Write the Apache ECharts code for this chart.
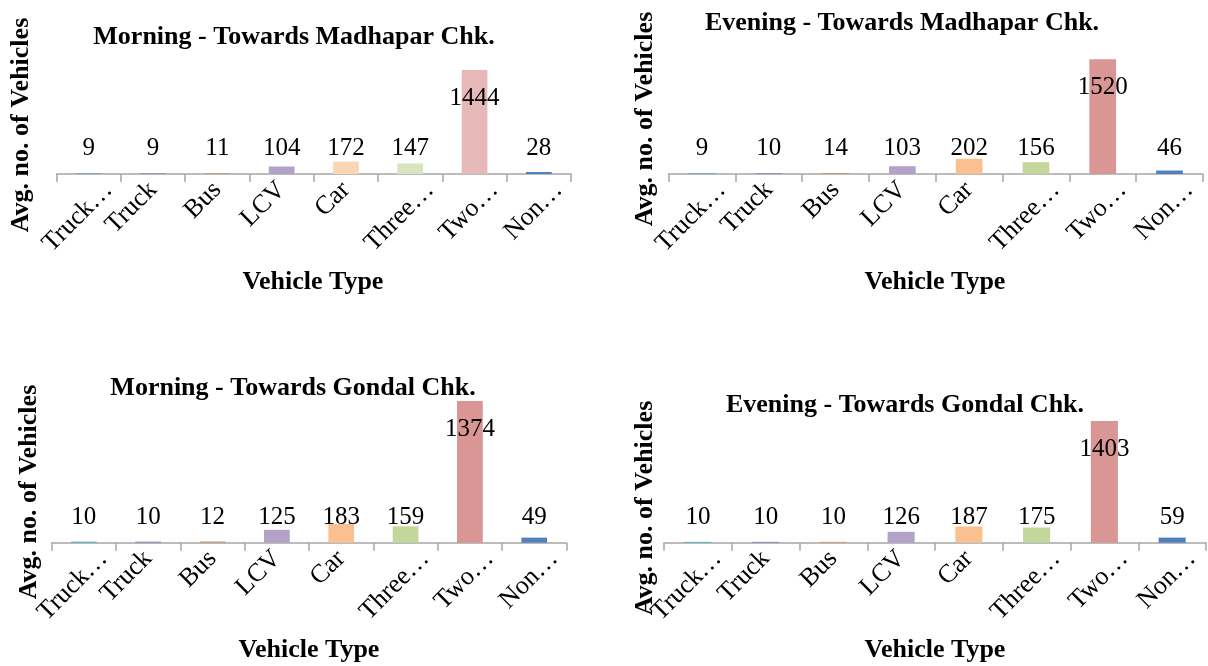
<!DOCTYPE html>
<html>
<head>
<meta charset="utf-8">
<script src="https://cdn.jsdelivr.net/npm/echarts@6/dist/echarts.min.js"></script>
<style>
html,body{margin:0;padding:0;background:#fff;}
#chart{width:1208px;height:666px;}
</style>
</head>
<body>
<div id="chart"></div>
<script>
// ---- data ----
const categories = ['Truck…', 'Truck', 'Bus', 'LCV', 'Car', 'Three…', 'Two…', 'Non…'];
const titles = [
  'Morning - Towards Madhapar Chk.',
  'Evening - Towards Madhapar Chk.',
  'Morning - Towards Gondal Chk.',
  'Evening - Towards Gondal Chk.'
];
const morningMadhapar = [9, 9, 11, 104, 172, 147, 1444, 28];
const eveningMadhapar = [9, 10, 14, 103, 202, 156, 1520, 46];
const morningGondal = [10, 10, 12, 125, 183, 159, 1374, 49];
const eveningGondal = [10, 10, 10, 126, 187, 175, 1403, 59];
const xAxisTitle = 'Vehicle Type';
const yAxisTitle = 'Avg. no. of Vehicles';

// ---- styling ----
const colorsLight = ['#4BACC6', '#8E7FAE', '#C49A78', '#B3A2C7', '#FCD5B5', '#D7E4BD', '#E6B9B8', '#4F81BD'];
const colorsStd = ['#4BACC6', '#8E7FAE', '#C49A78', '#B3A2C7', '#FAC090', '#C3D69B', '#D99694', '#4F81BD'];
const serif = '"Liberation Serif","Times New Roman",serif';

const panels = [
  {values: morningMadhapar, colors: colorsLight, grid: {left: 56.6, top: 58.8, width: 514.4, height: 115.2},
   title: [294, 37], xt: [313, 282], yt: [21, 125]},
  {values: eveningMadhapar, colors: colorsStd, grid: {left: 668.6, top: 53.2, width: 534.3, height: 120.8},
   title: [902, 23], xt: [935, 282], yt: [645, 119]},
  {values: morningGondal, colors: colorsStd, grid: {left: 51.7, top: 377.7, width: 514.7, height: 165},
   title: [293, 388], xt: [309, 650], yt: [29, 492]},
  {values: eveningGondal, colors: colorsStd, grid: {left: 664, top: 404, width: 542, height: 138.7},
   title: [905, 405], xt: [935, 650], yt: [645, 508]}
];

const grids = [], xAxes = [], yAxes = [], series = [], graphics = [];

panels.forEach((p, i) => {
  grids.push(Object.assign({containLabel: false}, p.grid));
  xAxes.push({
    type: 'category', gridIndex: i, data: categories,
    axisLine: {lineStyle: {color: '#A6A6A6', width: 1.5}},
    axisTick: {show: true, length: 8, lineStyle: {color: '#A6A6A6', width: 1.5}},
    axisLabel: {
      interval: 0, rotate: 45, margin: 12, color: '#000', fontSize: 26, fontFamily: serif,
      formatter: v => v.indexOf('…') >= 0 ? '{e|' + v + '}' : '{n|' + v + '}',
      rich: {
        e: {fontSize: 26, fontFamily: serif, color: '#000', padding: [28, -14, 0, 0]},
        n: {fontSize: 26, fontFamily: serif, color: '#000'}
      }
    }
  });
  yAxes.push({type: 'value', gridIndex: i, min: 0, max: 1600, show: false, splitLine: {show: false}});
  const maxV = Math.max(...p.values);
  series.push({
    type: 'bar', xAxisIndex: i, yAxisIndex: i, barCategoryGap: '60%',
    label: {show: true, position: 'insideBottom', distance: 13, color: '#000', fontSize: 25, fontFamily: serif},
    data: p.values.map((v, j) => {
      const d = {value: v, itemStyle: {color: p.colors[j]}};
      if (v === maxV) d.label = {position: 'insideTop', distance: 16};
      return d;
    })
  });
  graphics.push({
    type: 'text', x: p.title[0], y: p.title[1],
    style: {text: titles[i], fill: '#000', font: 'bold 26px ' + serif, textAlign: 'center', textVerticalAlign: 'middle', align: 'center', verticalAlign: 'middle'}
  });
  graphics.push({
    type: 'text', x: p.xt[0], y: p.xt[1],
    style: {text: xAxisTitle, fill: '#000', font: 'bold 26px ' + serif, textAlign: 'center', textVerticalAlign: 'middle', align: 'center', verticalAlign: 'middle'}
  });
  graphics.push({
    type: 'text', x: p.yt[0], y: p.yt[1], rotation: Math.PI / 2,
    style: {text: yAxisTitle, fill: '#000', font: 'bold 26px ' + serif, textAlign: 'center', textVerticalAlign: 'middle', align: 'center', verticalAlign: 'middle'}
  });
});

const chart = echarts.init(document.getElementById('chart'), null, {renderer: 'canvas'});
chart.setOption({
  animation: false,
  backgroundColor: '#fff',
  grid: grids, xAxis: xAxes, yAxis: yAxes, series: series,
  graphic: graphics
});
</script>
</body>
</html>
